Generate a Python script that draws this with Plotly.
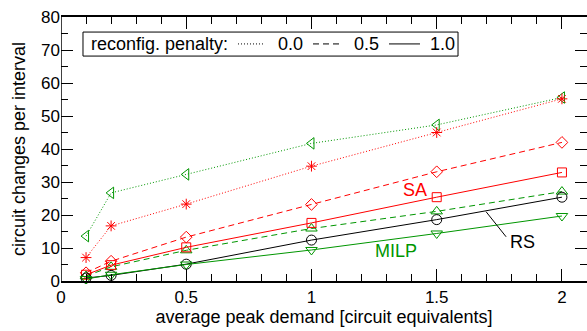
import plotly.graph_objects as go

# average peak demand [circuit equivalents]
demand = [0.1, 0.2, 0.5, 1.0, 1.5, 2.0]

# circuit changes per interval, per method and reconfiguration penalty
sa_pen00 = [7.1, 16.7, 23.3, 34.8, 45.0, 55.2]
milp_pen00 = [13.6, 26.7, 32.3, 41.7, 47.3, 55.6]
sa_pen05 = [2.5, 6.0, 13.3, 23.2, 33.1, 42.0]
sa_pen10 = [1.9, 4.8, 10.2, 17.6, 25.4, 32.9]
milp_pen05 = [1.5, 4.3, 9.3, 15.9, 21.1, 27.1]
rs_pen10 = [0.9, 1.7, 5.1, 12.4, 18.6, 25.4]
milp_pen10 = [0.6, 1.9, 5.0, 9.4, 14.4, 19.7]

x_ticks = [0, 0.5, 1, 1.5, 2]
x_tick_labels = ["0", "0.5", "1", "1.5", "2"]
y_ticks = [0, 10, 20, 30, 40, 50, 60, 70, 80]

RED = "rgb(255,0,0)"
GREEN = "rgb(0,150,0)"
BLACK = "rgb(0,0,0)"
FONT = "Liberation Sans, Arial, sans-serif"

series = [
    (milp_pen00, GREEN, "1px,2px", "triangle-left-open", 10),
    (sa_pen00, RED, "1px,2px", "asterisk-open", 9),
    (sa_pen05, RED, "6px,4px", "diamond-open", 9),
    (milp_pen05, GREEN, "6px,4px", "triangle-up-open", 10),
    (sa_pen10, RED, "solid", "square-open", 9),
    (rs_pen10, BLACK, "solid", "circle-open", 10),
    (milp_pen10, GREEN, "solid", "triangle-down-open", 10),
]

fig = go.Figure()
for ys, color, dash, symbol, size in series:
    fig.add_trace(go.Scatter(
        x=demand, y=ys, mode="lines+markers",
        line=dict(color=color, width=1, dash=dash),
        marker=dict(symbol=symbol, size=size, color=color,
                    line=dict(color=color, width=1)),
        showlegend=False, cliponaxis=False,
    ))

# method labels
fig.add_annotation(x=1.415, y=27.6, text="SA", showarrow=False,
                   font=dict(color=RED, size=18, family=FONT))
fig.add_annotation(x=1.336, y=9.1, text="MILP", showarrow=False,
                   font=dict(color=GREEN, size=18, family=FONT))
fig.add_annotation(x=1.842, y=11.8, text="RS", showarrow=False,
                   font=dict(color=BLACK, size=18, family=FONT))
fig.add_shape(type="line", xref="x", yref="y", x0=1.697, y0=21.0, x1=1.777, y1=13.4,
              line=dict(color=BLACK, width=1))

# line-style key for the reconfiguration penalty
fig.add_shape(type="rect", xref="paper", yref="paper", x0=0.0418, x1=0.7548,
              y0=0.852, y1=0.943, line=dict(color=BLACK, width=1), fillcolor="white",
              layer="above")
key_y = 0.898
fig.add_annotation(xref="paper", yref="paper", x=0.0532, y=key_y,
                   xanchor="left", yanchor="middle",
                   text="reconfig. penalty:", showarrow=False,
                   font=dict(color=BLACK, size=18, family=FONT))
key_items = [
    ("0.0", "1px,2px", 0.3365, 0.3840, 0.4087),
    ("0.5", "6px,4px", 0.4791, 0.5361, 0.5532),
    ("1.0", "solid", 0.6236, 0.6825, 0.6977),
]
for label, dash, lx0, lx1, tx in key_items:
    fig.add_shape(type="line", xref="paper", yref="paper", x0=lx0, x1=lx1,
                  y0=key_y, y1=key_y, line=dict(color=BLACK, width=1, dash=dash),
                  layer="above")
    fig.add_annotation(xref="paper", yref="paper", x=tx, y=key_y,
                       xanchor="left", yanchor="middle",
                       text=label, showarrow=False,
                       font=dict(color=BLACK, size=18, family=FONT))

# y-axis title, set a little closer to the tick labels than the default
fig.add_annotation(xref="paper", yref="paper", x=-0.0798, y=0.5,
                   xanchor="center", yanchor="middle", textangle=-90,
                   text="circuit changes per interval", showarrow=False,
                   font=dict(color=BLACK, size=18, family=FONT))

# left spine (the right edge carries only mirrored ticks)
fig.add_shape(type="line", xref="x", yref="paper", x0=0, x1=0, y0=0, y1=1,
              line=dict(color=BLACK, width=1.5), layer="above")

fig.update_xaxes(
    range=[0, 2.1], tickvals=x_ticks, ticktext=x_tick_labels,
    ticks="inside", ticklen=12, tickwidth=1, tickcolor=BLACK,
    showline=True, linecolor=BLACK, linewidth=1.5, mirror="ticks",
    minor=dict(dtick=0.1, tick0=0, ticks="inside", ticklen=7, tickcolor=BLACK, showgrid=False),
    showgrid=False, zeroline=False,
    tickfont=dict(size=17, color=BLACK, family=FONT),
    title=dict(text="average peak demand [circuit equivalents]",
               font=dict(size=18, color=BLACK, family=FONT), standoff=3),
)
fig.update_yaxes(
    range=[0, 80], tickvals=y_ticks,
    ticks="inside", ticklen=12, tickwidth=1, tickcolor=BLACK,
    showline=False, mirror="ticks",
    minor=dict(dtick=5, tick0=0, ticks="inside", ticklen=7, tickcolor=BLACK, showgrid=False),
    showgrid=False, zeroline=False,
    tickfont=dict(size=17, color=BLACK, family=FONT),
)

fig.update_layout(
    width=587, height=331,
    margin=dict(l=61, r=0, t=17, b=50),
    paper_bgcolor="white", plot_bgcolor="white",
    font=dict(family=FONT, color=BLACK),
)

fig.write_html("out.html")
